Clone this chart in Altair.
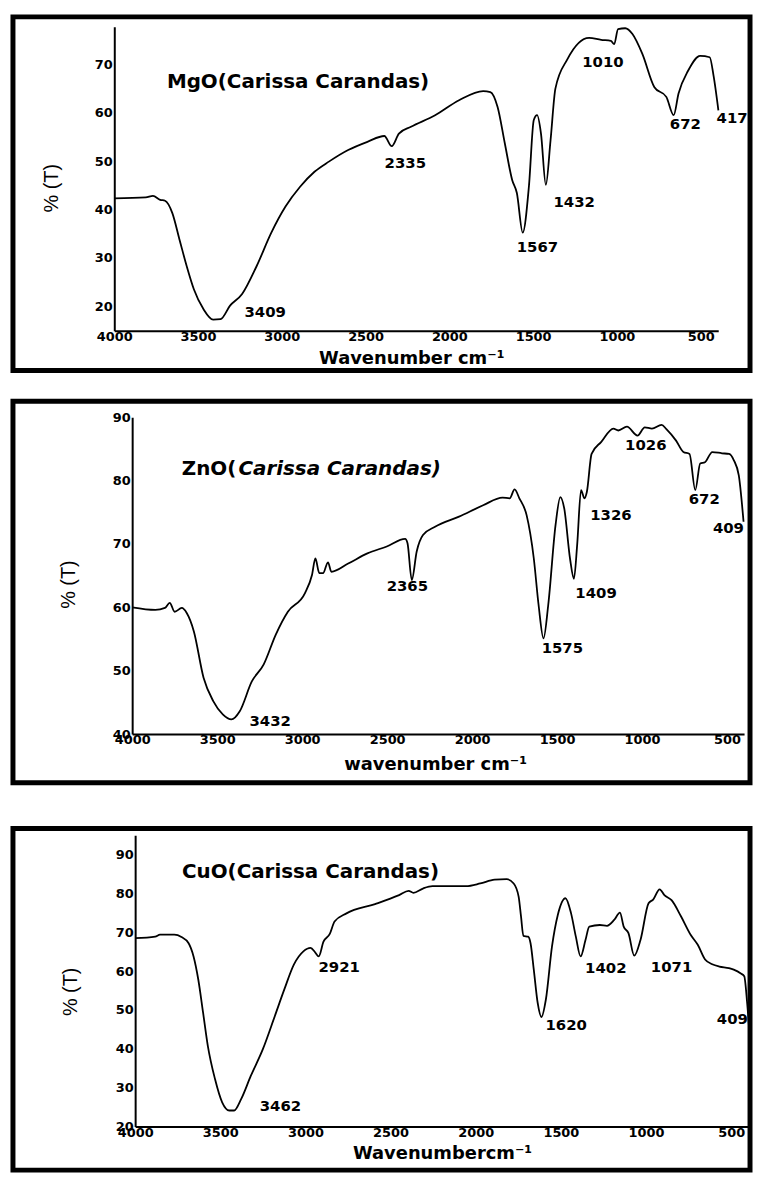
import altair as alt
import pandas as pd

FONT = "DejaVu Sans"
X_TICKS = [4000, 3500, 3000, 2500, 2000, 1500, 1000, 500]

# ---------------- MgO panel ----------------
mgo_wn = [4000, 3812, 3769, 3726, 3697, 3654, 3611, 3568, 3525, 3468, 3410, 3366, 3309, 3237, 3150,
          3064, 2978, 2891, 2805, 2719, 2604, 2489, 2388, 2344, 2301, 2229, 2085, 1942, 1798, 1755,
          1712, 1669, 1625, 1597, 1562, 1525, 1496, 1476, 1453, 1424, 1396, 1367, 1295, 1166, 1094,
          1036, 1016, 993, 950, 907, 848, 776, 705, 661, 632, 575, 503, 446, 423, 394]
mgo_t = [42.3, 42.5, 42.8, 42.0, 41.8, 39.3, 33.8, 28.3, 23.5, 19.4, 17.2, 17.3, 20.1, 22.5, 28.3,
         35.1, 40.6, 44.7, 47.8, 49.9, 52.3, 54.0, 55.2, 53.1, 55.7, 57.1, 59.5, 62.6, 64.5, 64.3,
         61.2, 53.7, 46.1, 43.4, 35.2, 44.8, 58.5, 59.5, 55.7, 45.1, 54.3, 65.0, 71.1, 75.5, 75.1,
         74.9, 74.2, 77.3, 77.5, 76.3, 72.2, 65.3, 63.3, 59.5, 64.0, 68.7, 71.8, 71.5, 67.7, 60.5]
mgo_labels = ["3409", "2335", "1567", "1432", "1010", "672", "417"]
mgo_label_x = [3099, 2263, 1474, 1255, 1083, 591, 312]
mgo_label_y = [18.8, 49.6, 32.2, 41.6, 70.6, 57.7, 58.9]
mgo_title = ["MgO(Carissa Carandas)"]
mgo_title_x = [3686]
mgo_title_y = [66.3]
mgo_yticks = [20, 30, 40, 50, 60, 70]

# ---------------- ZnO panel ----------------
zno_wn = [4000, 3864, 3807, 3779, 3750, 3708, 3679, 3637, 3580, 3523, 3467, 3416, 3367, 3296, 3226,
          3155, 3084, 2984, 2942, 2922, 2899, 2877, 2848, 2828, 2729, 2616, 2502, 2394, 2380, 2355,
          2326, 2289, 2218, 2077, 1935, 1821, 1779, 1750, 1722, 1679, 1637, 1609, 1580, 1552, 1509,
          1481, 1458, 1424, 1401, 1382, 1359, 1339, 1325, 1297, 1240, 1169, 1140, 1089, 1027, 984,
          942, 885, 857, 800, 757, 721, 687, 658, 630, 587, 530, 488, 460, 431, 403]
zno_t = [60.0, 59.6, 59.9, 60.7, 59.3, 59.9, 59.1, 56.2, 48.9, 45.2, 43.1, 42.3, 43.6, 48.3, 51.0,
         55.7, 59.3, 62.2, 65.1, 67.7, 65.4, 65.4, 67.1, 65.6, 66.9, 68.5, 69.6, 70.8, 70.1, 64.3,
         68.8, 71.4, 72.7, 74.3, 76.1, 77.3, 77.2, 78.6, 77.2, 74.5, 67.7, 60.4, 55.1, 60.4, 73.0,
         77.4, 75.6, 67.7, 64.5, 69.8, 78.5, 77.2, 78.2, 84.2, 86.1, 88.2, 87.9, 88.5, 87.1, 88.4,
         88.2, 88.8, 88.1, 86.3, 84.5, 84.2, 78.5, 82.7, 82.9, 84.5, 84.3, 84.2, 83.2, 80.8, 73.5]
zno_labels = ["3432", "2365", "1575", "1409", "1326", "1026", "672", "409"]
zno_label_x = [3188, 2381, 1469, 1271, 1183, 978, 634, 492]
zno_label_y = [42.0, 63.3, 53.5, 62.3, 74.6, 85.6, 77.1, 72.5]
zno_title_plain = ["ZnO("]
zno_title_italic = ["Carissa Carandas)"]
zno_title_x = [3708]
zno_title_y = [81.8]
zno_yticks = [40, 50, 60, 70, 80, 90]

# ---------------- CuO panel ----------------
cuo_wn = [4000, 3882, 3854, 3770, 3728, 3686, 3657, 3629, 3601, 3573, 3531, 3489, 3447, 3419, 3377,
          3321, 3250, 3180, 3124, 3068, 3012, 2970, 2942, 2922, 2894, 2857, 2829, 2759, 2591, 2450,
          2394, 2366, 2310, 2254, 2057, 1973, 1889, 1819, 1777, 1748, 1734, 1720, 1692, 1678, 1659,
          1636, 1614, 1588, 1552, 1518, 1473, 1440, 1412, 1384, 1355, 1333, 1271, 1229, 1187, 1153,
          1131, 1103, 1069, 1032, 985, 957, 920, 892, 850, 794, 738, 696, 653, 611, 569,
          513, 485, 443, 423, 406, 387]
cuo_t = [68.5, 68.9, 69.4, 69.4, 68.8, 67.2, 63.8, 57.8, 49.3, 40.7, 32.2, 26.2, 24.1, 24.1, 27.1,
         33.0, 39.9, 48.4, 55.3, 61.7, 65.1, 66.0, 64.8, 63.8, 67.6, 69.6, 72.8, 74.9, 77.3, 79.6,
         80.7, 80.2, 81.3, 81.9, 81.9, 82.6, 83.6, 83.7, 82.6, 79.2, 74.1, 69.1, 68.9, 67.2, 60.4,
         51.8, 48.2, 52.7, 66.4, 74.5, 78.8, 74.9, 68.9, 63.8, 68.1, 71.5, 71.9, 71.7, 73.2, 75.1,
         71.5, 69.8, 64.0, 68.1, 77.5, 78.5, 81.1, 79.6, 78.3, 74.1, 69.4, 66.8, 63.0, 61.8, 61.2,
         60.8, 60.4, 59.4, 58.7, 51.8, 40.7]
cuo_labels = ["3462", "2921", "1620", "1402", "1071", "409"]
cuo_label_x = [3147, 2802, 1469, 1236, 850, 493]
cuo_label_y = [25.3, 61.2, 46.0, 60.9, 61.2, 47.6]
cuo_title = ["CuO(Carissa Carandas)"]
cuo_title_x = [3725]
cuo_title_y = [85.5]
cuo_yticks = [20, 30, 40, 50, 60, 70, 80, 90]


def make_panel(wn, t, labels, lab_x, lab_y, titles, xdom, xrange, ydom, yrange, yticks,
               w, h, xoff, yoff, xtitle, xtx, xty, ytx, yty):
    xs = alt.Scale(domain=xdom, range=xrange, nice=False, zero=False)
    ys = alt.Scale(domain=ydom, range=yrange, nice=False, zero=False)
    common = dict(labelFont=FONT, labelFontSize=13, labelFontWeight="bold", labelColor="black",
                  domainColor="black", domainWidth=2, ticks=False, grid=False,
                  labelFlush=False, labelOverlap=False, titleColor="black", format="d",
                  titleAlign="center", titleBaseline="middle")
    xaxis = alt.Axis(values=X_TICKS, offset=xoff, title=xtitle, titleX=xtx, titleY=xty,
                     titleFont=FONT, titleFontSize=18, titleFontWeight="bold",
                     labelPadding=0, **common)
    yaxis = alt.Axis(values=yticks, offset=yoff, title="% (T)", titleX=ytx, titleY=yty,
                     titleAngle=270, titleFont="Liberation Sans", titleFontSize=20,
                     titleFontWeight="normal", labelPadding=2, **common)

    def enc(ch):
        return ch.encode(x=alt.X("wn:Q", scale=xs, axis=xaxis), y=alt.Y("t:Q", scale=ys, axis=yaxis))

    line = enc(alt.Chart(pd.DataFrame({"wn": wn, "t": t})).mark_line(
        color="black", strokeWidth=1.8, clip=True, interpolate="monotone"))
    lab = enc(alt.Chart(pd.DataFrame({"wn": lab_x, "t": lab_y, "txt": labels})).mark_text(
        font=FONT, fontSize=15, fontWeight="bold", align="center", baseline="middle",
        color="black")).encode(text="txt:N")
    layers = [line, lab]
    for (tx, tt, txt, style, dx) in titles:
        layers.append(enc(alt.Chart(pd.DataFrame({"wn": tx, "t": tt, "txt": txt})).mark_text(
            font=FONT, fontSize=20, fontWeight="bold", fontStyle=style, align="left",
            baseline="middle", color="black", dx=dx)).encode(text="txt:N"))
    return alt.layer(*layers).properties(width=w, height=h)


p1 = make_panel(mgo_wn, mgo_t, mgo_labels, mgo_label_x, mgo_label_y,
                [(mgo_title_x, mgo_title_y, mgo_title, "normal", 0)],
                [4000, 395], [102, 710], [14.9, 77.8], [316, 10], mgo_yticks,
                742, 356, -40, -102, "Wavenumber cm⁻¹", 401, 28, -63, 172)

p2 = make_panel(zno_wn, zno_t, zno_labels, zno_label_x, zno_label_y,
                [(zno_title_x, zno_title_y, zno_title_plain, "normal", 0),
                 (zno_title_x, zno_title_y, zno_title_italic, "italic", 57)],
                [4000, 400], [120, 736], [40, 90], [335, 16], zno_yticks,
                742, 384, -49, -120, "wavenumber cm⁻¹", 425, 31, -64, 184)

p3 = make_panel(cuo_wn, cuo_t, cuo_labels, cuo_label_x, cuo_label_y,
                [(cuo_title_x, cuo_title_y, cuo_title, "normal", 0)],
                [4000, 395], [123, 741], [20, 95], [300, 7], cuo_yticks,
                742, 344, -44, -123, "Wavenumbercm⁻¹", 432, 27, -65, 164)

chart = alt.vconcat(alt.vconcat(p1, p2, spacing=25), p3, spacing=40).properties(
    padding={"left": 2, "top": 2, "right": 0, "bottom": 0},
    background="white"
).configure_view(stroke="black", strokeWidth=5)

chart.save("out.html", embed_options={"renderer": "svg", "actions": False})
